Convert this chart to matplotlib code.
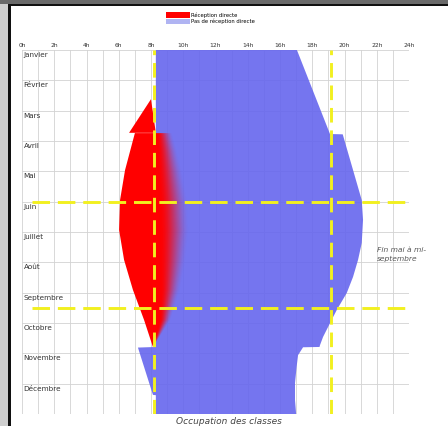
import numpy as np
import matplotlib
matplotlib.use('Agg')
import matplotlib.pyplot as plt
from matplotlib.patches import Polygon, Patch, Rectangle

months = ['Janvier', 'Février', 'Mars', 'Avril', 'Mai', 'Juin', 'Juillet',
          'Août', 'Septembre', 'Octobre', 'Novembre', 'Décembre']
hours = list(range(0, 25, 2))
hour_labels = [f'{h}h' for h in hours]

# zone bleue : occupation des classes sans réception directe (mois, heure)
blue_left_m = [0, 9.79, 9.81, 11.37, 11.38, 12]
blue_left_h = [8.3, 8.3, 7.19, 8.12, 8.3, 8.3]
blue_right_m = [0, 2.77, 2.78, 4.95, 5.6, 6.36, 6.92, 7.48, 8.01, 8.57, 8.9,
                9.46, 9.73, 9.79, 9.8, 10.06, 10.45, 10.98, 11.54, 12]
blue_right_h = [17.05, 19.1, 19.89, 21.07, 21.15, 21.07, 20.84, 20.53, 20.14,
                19.52, 19.2, 18.67, 18.48, 18.45, 17.43, 17.12, 17.03, 16.93,
                16.93, 17.0]

# zone rouge : réception directe (avant changement d'heure)
red_top_m = [1.62, 2.73, 2.73]
red_top_h = [8.0, 6.64, 8.3]

# zone rouge principale (lentille), bord droit en dégradé
red_m = [2.74, 3.30, 3.96, 4.95, 5.93, 6.92, 7.91, 8.90, 9.79]
red_left = [7.0, 6.72, 6.39, 6.08, 6.02, 6.33, 6.88, 7.57, 8.12]
red_right = [9.3, 9.6, 9.9, 10.25, 10.35, 10.15, 9.8, 9.2, 8.12]

# lignes jaunes : fin mai / mi-septembre, heures de début et fin
summer_start = 5.0
summer_end = 8.5
day_start = 8.2
day_end = 19.15

fig = plt.figure(figsize=(4.48, 4.26), dpi=100)
fig.patch.set_facecolor('white')

# cadre de la capture d'écran
fig.patches.append(Rectangle((0, 0), 8 / 448, 1, transform=fig.transFigure,
                             facecolor='#cfcfcf', edgecolor='none'))
fig.patches.append(Rectangle((0, 1 - 4 / 426), 1, 4 / 426, transform=fig.transFigure,
                             facecolor='#6a6a6a', edgecolor='none'))
fig.patches.append(Rectangle((8 / 448, 0), 3 / 448, 1 - 4 / 426, transform=fig.transFigure,
                             facecolor='#111111', edgecolor='none'))
fig.patches.append(Rectangle((8 / 448, 1 - 6 / 426), 1, 2 / 426, transform=fig.transFigure,
                             facecolor='#111111', edgecolor='none'))

ax = fig.add_axes([22 / 448, 1 - 414 / 426, (409 - 22) / 448, (414 - 50) / 426])
ax.set_xlim(0, 24)
ax.set_ylim(12, 0)
for s in ax.spines.values():
    s.set_visible(False)

ax.xaxis.tick_top()
ax.set_xticks(hours)
ax.set_xticklabels(hour_labels, fontsize=4.3, color='#333333')
ax.set_xticks(range(25), minor=True)
ax.set_yticks(range(13))
ax.set_yticklabels([])
ax.tick_params(which='both', length=0, pad=1.5)
ax.grid(True, which='both', color='#d2d2d2', linewidth=0.6)
ax.set_axisbelow(True)

# zone bleue
blue_pts = list(zip(blue_left_h, blue_left_m)) + list(zip(blue_right_h, blue_right_m))[::-1]
ax.add_patch(Polygon(blue_pts, closed=True, facecolor='#6666ee', alpha=0.9,
                     edgecolor='none', zorder=2))

# zone rouge (triangle)
ax.add_patch(Polygon(list(zip(red_top_h, red_top_m)), closed=True,
                     facecolor='#ff0000', edgecolor='none', zorder=3))

# zone rouge (lentille) avec dégradé vers la droite
lens_pts = list(zip(red_left, red_m)) + list(zip(red_right, red_m))[::-1]
lens = Polygon(lens_pts, closed=True, facecolor='none', edgecolor='none', zorder=3)
ax.add_patch(lens)
gx = np.linspace(min(red_left) - 0.2, max(red_right) + 0.2, 500)
gy = np.linspace(min(red_m), max(red_m), 500)
L = np.interp(gy, red_m, red_left)[:, None]
R = np.interp(gy, red_m, red_right)[:, None]
width = np.maximum(R - L, 1e-6)
t = np.clip((R - gx[None, :]) / (0.42 * width), 0, 1)
alpha = t * t * (3 - 2 * t)
img = np.zeros((len(gy), len(gx), 4))
img[..., 0] = 1.0
img[..., 3] = alpha
im = ax.imshow(img, extent=(gx[0], gx[-1], gy[-1], gy[0]), aspect='auto',
               interpolation='bilinear', zorder=3)
im.set_clip_path(lens)

# lignes jaunes
yellow = '#f2f020'
ax.axhline(summer_start, xmin=0.025, xmax=1.0, color=yellow, lw=2.1,
           linestyle=(0, (6, 2.7)), zorder=5)
ax.axhline(summer_end, xmin=0.025, xmax=1.0, color=yellow, lw=2.1,
           linestyle=(0, (6, 2.7)), zorder=5)
ax.axvline(day_start, color=yellow, lw=2.1, linestyle=(0, (5, 2.7)), zorder=5)
ax.axvline(day_end, color=yellow, lw=2.1, linestyle=(0, (5, 2.7)), zorder=5)

# noms des mois
for i, name in enumerate(months):
    ax.text(0.1, i + 0.17, name, fontsize=5.2, color='#333333',
            ha='left', va='center', zorder=6)

ax.text(22.02, 6.74, 'Fin mai à mi-\nseptembre', fontsize=5.4, style='italic',
        color='#555555', ha='left', va='center', clip_on=False, linespacing=1.4)

fig.text(229 / 448, 1 - 421.5 / 426, 'Occupation des classes', fontsize=6.5,
         style='italic', color='#444444', ha='center', va='center')

handles = [Patch(facecolor='#ff0000', edgecolor='none', label='Réception directe'),
           Patch(facecolor='#b0b4f2', edgecolor='none', label='Pas de réception directe')]
fig.legend(handles=handles, loc='upper left', bbox_to_anchor=(166 / 448, 1 - 12 / 426),
           frameon=False, fontsize=3.8, handlelength=4.5, handleheight=1.3,
           labelspacing=0.15, handletextpad=0.3, borderpad=0, borderaxespad=0)

fig.savefig('out.png', dpi=100)
